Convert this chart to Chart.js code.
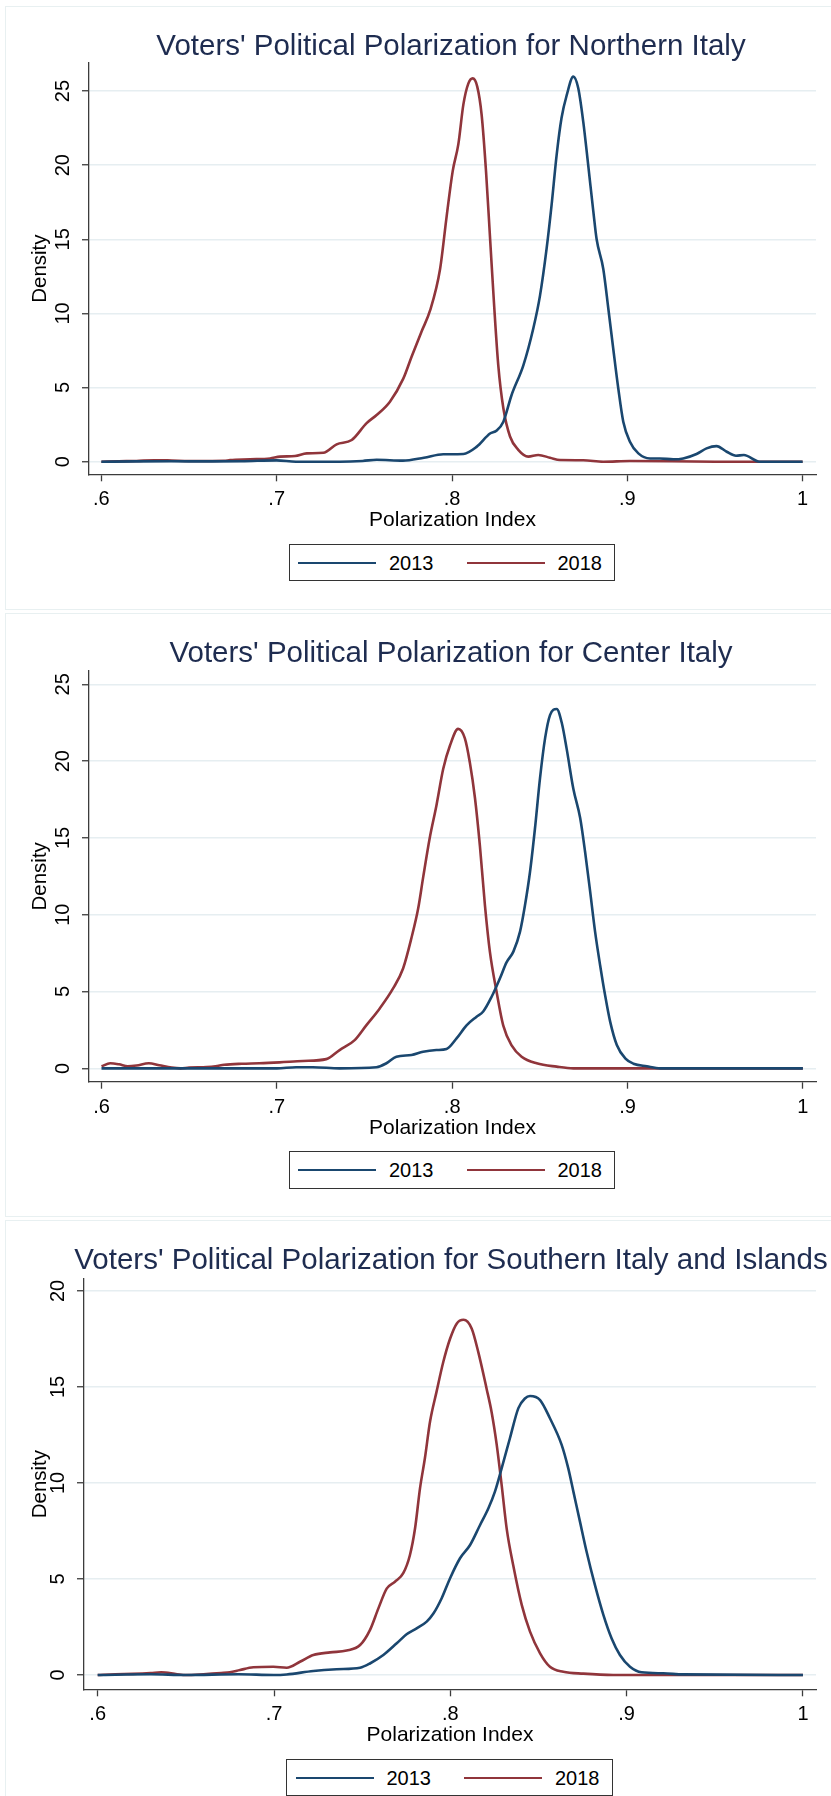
<!DOCTYPE html>
<html>
<head>
<meta charset="utf-8">
<title>Voters' Political Polarization</title>
<script src="https://cdn.jsdelivr.net/npm/chart.js@4.4.1/dist/chart.umd.min.js"></script>
<style>
  html, body { margin: 0; padding: 0; background: #fff; overflow: hidden; }
  body { position: relative; width: 831px; height: 1796px; font-family: "Liberation Sans", Arial, sans-serif; }
  .panel { position: absolute; left: 5px; width: 900px; height: 604px; box-sizing: border-box;
           border: 1.5px solid #e8f0f1; background: #fff; }
  canvas { position: absolute; left: 0; }
  .title { position: absolute; left: 0; width: 902px; text-align: center; white-space: nowrap;
           font-size: 29.5px; line-height: 29px; color: #1e2c50; }
  .legend { position: absolute; height: 37.7px; box-sizing: border-box; border: 1.3px solid #333;
            background: #fff; display: flex; align-items: center; padding: 0 12px 0 8.5px;
            font-size: 20px; line-height: 20px; color: #000; white-space: nowrap; }
  .legend .sw { display: inline-block; width: 78px; height: 2.2px; margin-right: 13px; }
  .legend .lab + .sw { margin-left: 33px; }
</style>
</head>
<body>
<script>
// Kernel density curves (x = polarization index, y = density)
const northX2013 = [0.6, 0.62, 0.64, 0.66, 0.68, 0.70, 0.711, 0.736, 0.749, 0.757, 0.772, 0.784, 0.795,
  0.8065, 0.814, 0.8217, 0.8255, 0.8293, 0.834, 0.8407, 0.8464, 0.8502, 0.854, 0.8568, 0.8597, 0.8625,
  0.8654, 0.8692, 0.872, 0.8749, 0.8777, 0.8806, 0.8825, 0.8863, 0.8892, 0.892, 0.8949, 0.8977, 0.9015,
  0.9063, 0.913, 0.9186, 0.9262, 0.9319, 0.9395, 0.9452, 0.9509, 0.9567, 0.962, 0.9665, 0.9755, 1.0];
const north2013 = [0, 0.02, 0.03, 0.02, 0.03, 0.09, 0, 0, 0.05, 0.13, 0.07, 0.27, 0.5,
  0.52, 1.0, 1.9, 2.1, 2.7, 4.5, 6.5, 9.0, 11.2, 14.4, 17.3, 20.7, 23.2,
  24.7, 25.97, 25.2, 22.9, 20.0, 16.9, 15.0, 13.0, 10.3, 7.6, 4.9, 2.7, 1.35,
  0.56, 0.22, 0.22, 0.16, 0.22, 0.52, 0.9, 1.05, 0.67, 0.4, 0.45, 0, 0];

const northX2018 = [0.6, 0.61, 0.62, 0.63, 0.64, 0.65, 0.66, 0.67, 0.6734, 0.6848, 0.6962, 0.7019,
  0.7105, 0.7171, 0.7266, 0.7342, 0.7428, 0.7513, 0.757, 0.7646, 0.7722, 0.777, 0.7827, 0.7875, 0.7932,
  0.797, 0.8004, 0.8036, 0.8065, 0.8093, 0.8118, 0.8144, 0.8169, 0.8194, 0.8217, 0.824, 0.8264, 0.8293,
  0.8331, 0.8378, 0.8435, 0.8492, 0.8559, 0.8616, 0.8749, 0.8863, 0.9015, 0.95, 1.0];
const north2018 = [0, 0.03, 0.05, 0.1, 0.08, 0.05, 0.05, 0.06, 0.11, 0.16, 0.22, 0.34,
  0.38, 0.56, 0.6, 1.17, 1.46, 2.6, 3.15, 4.05, 5.6, 7.1, 8.8, 10.2, 13.0,
  16.6, 19.6, 21.4, 24.1, 25.5, 25.85, 25.3, 23.4, 19.6, 15.1, 10.6, 6.5, 3.6,
  1.7, 0.8, 0.34, 0.45, 0.27, 0.11, 0.1, 0, 0.05, 0, 0];

const centerX2013 = [0.6, 0.62, 0.64, 0.66, 0.68, 0.70, 0.711, 0.7206, 0.7358, 0.7568, 0.7625, 0.7682,
  0.7768, 0.7834, 0.791, 0.7968, 0.8025, 0.8082, 0.8139, 0.8177, 0.8225, 0.8272, 0.831, 0.8349, 0.8387,
  0.8415, 0.8444, 0.8472, 0.8501, 0.853, 0.8558, 0.8596, 0.8625, 0.8653, 0.8691, 0.873, 0.8758, 0.8787,
  0.8815, 0.8844, 0.8872, 0.8901, 0.8939, 0.8987, 0.9034, 0.911, 0.9187, 1.0];
const center2013 = [0, 0, 0, 0, 0, 0, 0.07, 0.07, 0, 0.07, 0.33, 0.76,
  0.87, 1.08, 1.19, 1.26, 1.95, 2.8, 3.36, 3.7, 4.66, 5.85, 6.9, 7.6, 8.9,
  10.6, 12.8, 15.6, 18.9, 21.5, 23.0, 23.4, 22.5, 20.8, 18.2, 16.3, 14.1, 11.5,
  8.9, 6.7, 4.77, 3.04, 1.52, 0.65, 0.3, 0.13, 0, 0];

const centerX2018 = [0.6, 0.605, 0.61, 0.615, 0.62, 0.627, 0.633, 0.64, 0.645, 0.65, 0.66, 0.665,
  0.67, 0.68, 0.69, 0.7015, 0.7149, 0.7282, 0.7358, 0.7444, 0.751, 0.7587, 0.7663, 0.772, 0.7768,
  0.7806, 0.7834, 0.7872, 0.791, 0.7949, 0.7987, 0.8034, 0.8072, 0.8101, 0.813, 0.8158, 0.8187, 0.8215,
  0.8253, 0.8291, 0.8339, 0.8396, 0.8482, 0.8596, 0.8691, 1.0];
const center2018 = [0.13, 0.33, 0.26, 0.13, 0.18, 0.33, 0.2, 0.05, 0, 0.05, 0.08, 0.13,
  0.23, 0.3, 0.33, 0.39, 0.48, 0.6, 1.19, 1.84, 2.8, 3.9, 5.2, 6.5, 8.5,
  10.4, 12.4, 15.0, 17.1, 19.5, 21.0, 22.1, 21.5, 19.9, 17.6, 14.5, 10.6, 7.6,
  5.0, 2.8, 1.5, 0.76, 0.33, 0.11, 0, 0];

const southX2013 = [0.6, 0.63, 0.65, 0.68, 0.70, 0.7072, 0.7223, 0.7355, 0.7488, 0.7544, 0.762,
  0.7696, 0.7752, 0.7809, 0.7866, 0.7904, 0.7951, 0.7998, 0.8055, 0.8112, 0.8168, 0.8216, 0.8253,
  0.8291, 0.8338, 0.8386, 0.8423, 0.8452, 0.8509, 0.8565, 0.8631, 0.8669, 0.8698, 0.8735, 0.8773,
  0.882, 0.8868, 0.8915, 0.8962, 0.9019, 0.9085, 0.9208, 0.9321, 1.0];
const south2013 = [0, 0.04, 0, 0.04, 0, 0.03, 0.21, 0.3, 0.38, 0.6, 1.04,
  1.65, 2.12, 2.43, 2.78, 3.2, 4.0, 5.03, 6.08, 6.77, 7.8, 8.68, 9.55,
  10.76, 12.33, 13.9, 14.4, 14.53, 14.32, 13.37, 12.0, 10.76, 9.55, 8.0, 6.42,
  4.69, 3.13, 1.9, 1.04, 0.43, 0.14, 0.09, 0.03, 0];

const southX2018 = [0.6, 0.61, 0.62, 0.63, 0.636, 0.645, 0.65, 0.66, 0.67, 0.675, 0.6807, 0.6883,
  0.6996, 0.7072, 0.7147, 0.7223, 0.7318, 0.7412, 0.7488, 0.7544, 0.7592, 0.7639, 0.7686, 0.7733,
  0.7771, 0.78, 0.7828, 0.7856, 0.7885, 0.7922, 0.796, 0.7998, 0.8036, 0.8075, 0.8121, 0.8159, 0.8206,
  0.8234, 0.8263, 0.8291, 0.832, 0.8357, 0.8405, 0.8452, 0.8509, 0.8565, 0.8641, 0.8754, 0.8924, 1.0];
const south2018 = [0, 0.04, 0.06, 0.1, 0.14, 0.04, 0, 0.04, 0.1, 0.14, 0.26, 0.4,
  0.43, 0.38, 0.69, 1.04, 1.18, 1.27, 1.56, 2.34, 3.47, 4.5, 4.86, 5.3,
  6.25, 7.64, 9.72, 11.3, 13.2, 14.76, 16.3, 17.5, 18.3, 18.5, 18.05, 16.8, 14.9,
  13.7, 12.0, 9.9, 7.6, 5.7, 3.65, 2.26, 1.13, 0.43, 0.17, 0.07, 0, 0];

const panelTitles = [
  "Voters' Political Polarization for Northern Italy",
  "Voters' Political Polarization for Center Italy",
  "Voters' Political Polarization for Southern Italy and Islands"
];
const seriesLabels = ['2013', '2018'];
const seriesColors = ['#1a476f', '#90353b'];
const xTicks = [0.6, 0.7, 0.8, 0.9, 1];
const xTickLabels = ['.6', '.7', '.8', '.9', '1'];
const yTicksNorthCenter = [0, 5, 10, 15, 20, 25];
const yTicksSouth = [0, 5, 10, 15, 20];

// page layout of each graph (pixels) and the axis ranges Stata used
const panels = [
  { top: 6, plotLeft: 89, plotTop: 63, plotBottom: 474.3, xMin: 0.59293, xMax: 1.00764, yMin: -0.85, yMax: 26.89,
    yTicks: yTicksNorthCenter, x13: northX2013, y13: north2013, x18: northX2018, y18: north2018 },
  { top: 613, plotLeft: 89, plotTop: 671, plotBottom: 1081.7, xMin: 0.59287, xMax: 1.0075, yMin: -0.87, yMax: 25.87,
    yTicks: yTicksNorthCenter, x13: centerX2013, y13: center2013, x18: centerX2018, y18: center2018 },
  { top: 1220, plotLeft: 84, plotTop: 1279, plotBottom: 1689.3, xMin: 0.59223, xMax: 1.0074, yMin: -0.745, yMax: 20.625,
    yTicks: yTicksSouth, x13: southX2013, y13: south2013, x18: southX2018, y18: south2018 }
];

const W = 831, H = 604, PLOT_RIGHT = 816, XAXIS_H = 60;
const axisColor = '#3c3c3c';

Chart.defaults.font.family = "'Liberation Sans', Arial, sans-serif";
Chart.defaults.color = '#000';

function points(xs, ys) {
  return xs.map((x, i) => ({ x: x, y: ys[i] }));
}

function el(tag, cls, parent) {
  const e = document.createElement(tag);
  if (cls) e.className = cls;
  (parent || document.body).appendChild(e);
  return e;
}

panels.forEach((p, k) => {
  const box = el('div', 'panel');
  box.style.top = p.top + 'px';

  const canvas = el('canvas');
  canvas.width = W;
  canvas.height = H;
  canvas.style.top = p.top + 'px';

  const title = el('div', 'title');
  title.style.top = (p.top + 24) + 'px';
  title.textContent = panelTitles[k];

  const line = (label, color, data) => ({
    label: label, data: data, borderColor: color, backgroundColor: color,
    showLine: true, pointRadius: 0, borderWidth: 2.6, cubicInterpolationMode: 'monotone'
  });

  const chart = new Chart(canvas, {
    type: 'scatter',
    data: {
      datasets: [
        line(seriesLabels[0], seriesColors[0], points(p.x13, p.y13)),
        line(seriesLabels[1], seriesColors[1], points(p.x18, p.y18))
      ]
    },
    options: {
      responsive: false,
      animation: false,
      devicePixelRatio: 1,
      layout: {
        padding: {
          left: 0,
          right: W - PLOT_RIGHT,
          top: p.plotTop - p.top,
          bottom: H - (p.plotBottom - p.top) - XAXIS_H
        }
      },
      plugins: { legend: { display: false }, tooltip: { enabled: false } },
      scales: {
        x: {
          type: 'linear',
          min: p.xMin,
          max: p.xMax,
          afterBuildTicks: s => { s.ticks = xTicks.map(v => ({ value: v })); },
          afterFit: s => { s.height = XAXIS_H; },
          ticks: { autoSkip: false, maxRotation: 0, padding: 6.5, font: { size: 20 },
                   callback: (v, i) => xTickLabels[i] },
          grid: { drawOnChartArea: false, tickLength: 7, tickColor: axisColor, tickWidth: 1.3 },
          border: { color: axisColor, width: 1.3 },
          title: { display: true, text: 'Polarization Index', font: { size: 21 },
                   padding: { top: 0, bottom: 1.3 } }
        },
        y: {
          type: 'linear',
          min: p.yMin,
          max: p.yMax,
          afterBuildTicks: s => { s.ticks = p.yTicks.map(v => ({ value: v })); },
          afterFit: s => { s.width = p.plotLeft; },
          ticks: { autoSkip: false, minRotation: 90, maxRotation: 90, crossAlign: 'center',
                   padding: 7.2, font: { size: 20 }, callback: v => String(v) },
          grid: { color: '#e6eef1', lineWidth: 1.5, tickLength: 7, tickColor: axisColor, tickWidth: 1.3 },
          border: { color: axisColor, width: 1.3 },
          title: { display: true, text: 'Density', font: { size: 20.5 },
                   padding: { top: 28, bottom: 0 } }
        }
      }
    }
  });

  // legend box under the axis title, built from the chart's datasets
  const legend = el('div', 'legend');
  legend.style.top = (p.plotBottom + 69.5) + 'px';
  legend.style.left = ((p.plotLeft + PLOT_RIGHT) / 2 - 164) + 'px';
  chart.data.datasets.forEach(ds => {
    const sw = el('span', 'sw', legend);
    sw.style.background = ds.borderColor;
    const lab = el('span', 'lab', legend);
    lab.textContent = ds.label;
  });
});
</script>
</body>
</html>
